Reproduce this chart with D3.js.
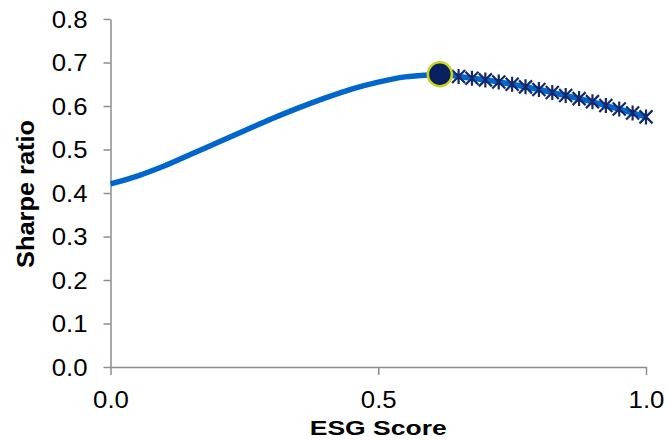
<!DOCTYPE html>
<html>
<head>
<meta charset="utf-8">
<script src="https://cdn.jsdelivr.net/npm/d3@7"></script>
<style>
  html, body { margin: 0; padding: 0; background: #fff; }
  svg { display: block; }
  text { font-family: "Liberation Sans", Arial, sans-serif; fill: #000; }
</style>
</head>
<body>
<svg id="chart" width="667" height="441"></svg>
<script>
// ---- data ----
const curveX = [0.00, 0.05, 0.10, 0.15, 0.20, 0.25, 0.30, 0.35, 0.40, 0.45, 0.50, 0.55, 0.60, 0.615];
const curveY = [0.421, 0.439, 0.462, 0.489, 0.516, 0.543, 0.570, 0.595, 0.618, 0.639, 0.655, 0.667, 0.672, 0.673];
const optimumX = [0.615];
const optimumY = [0.673];
const markX = [0.65, 0.675, 0.70, 0.725, 0.75, 0.775, 0.80, 0.825, 0.85, 0.875, 0.90, 0.925, 0.95, 0.975, 1.00];
const markY = [0.668, 0.664, 0.660, 0.655, 0.650, 0.644, 0.638, 0.631, 0.624, 0.617, 0.610, 0.601, 0.593, 0.584, 0.575];
const xTicks = [0.0, 0.5, 1.0];
const yTicks = [0.0, 0.1, 0.2, 0.3, 0.4, 0.5, 0.6, 0.7, 0.8];
const xTitle = "ESG Score";
const yTitle = "Sharpe ratio";

// ---- layout ----
const svg = d3.select("#chart");
const x = d3.scaleLinear().domain([0, 1]).range([110.5, 646]);
const y = d3.scaleLinear().domain([0, 0.8]).range([367, 19]);
const axisColor = "#8c8c8c";

function stretch(sel, k) {
  sel.each(function () {
    const len = this.getComputedTextLength();
    d3.select(this).attr("textLength", len * k).attr("lengthAdjust", "spacingAndGlyphs");
  });
}

// axes
const gx = svg.append("g").attr("transform", `translate(0,${y(0)})`)
  .call(d3.axisBottom(x).tickValues(xTicks).tickFormat(d3.format(".1f")).tickSizeInner(8).tickSizeOuter(0).tickPadding(17));
const gy = svg.append("g").attr("transform", `translate(${x(0)},0)`)
  .call(d3.axisLeft(y).tickValues(yTicks).tickFormat(d3.format(".1f")).tickSizeInner(7).tickSizeOuter(0).tickPadding(16));
[gx, gy].forEach(g => {
  g.select(".domain").attr("stroke", axisColor).attr("stroke-width", 1.5);
  g.selectAll(".tick line").attr("stroke", axisColor).attr("stroke-width", 1.5);
  g.selectAll(".tick text").attr("font-size", 23).attr("fill", "#000")
    .attr("font-family", "'Liberation Sans', Arial, sans-serif");
});
gy.selectAll(".tick text").attr("dy", "0.36em");
gx.selectAll(".tick text").attr("dy", "0.71em");
stretch(gx.selectAll(".tick text"), 1.12);
stretch(gy.selectAll(".tick text"), 1.12);

// titles
const xt = svg.append("text").attr("x", x(0.5)).attr("y", 435).attr("text-anchor", "middle")
  .attr("font-size", 21).attr("font-weight", "bold").text(xTitle);
stretch(xt, 137 / xt.node().getComputedTextLength());
const yt = svg.append("text").attr("transform", `translate(34,194) rotate(-90)`).attr("text-anchor", "middle")
  .attr("font-size", 24).attr("font-weight", "bold").text(yTitle);
stretch(yt, 148 / yt.node().getComputedTextLength());

// line
const pts = curveX.map((d, i) => [d, curveY[i]]).concat(markX.map((d, i) => [d, markY[i]]));
const line = d3.line().x(d => x(d[0])).y(d => y(d[1])).curve(d3.curveMonotoneX);
svg.append("path").datum(pts).attr("d", line).attr("fill", "none")
  .attr("stroke", "#0066cc").attr("stroke-width", 5.5).attr("stroke-linecap", "butt");

// star markers
const navy = "#14286a";
const mk = svg.append("g");
markX.forEach((d, i) => {
  const cx = x(d), cy = y(markY[i]);
  mk.append("path")
    .attr("d", `M${cx - 6.5},${cy - 6.5}L${cx + 6.5},${cy + 6.5}M${cx - 6.5},${cy + 6.5}L${cx + 6.5},${cy - 6.5}M${cx},${cy - 7.5}L${cx},${cy + 7.5}`)
    .attr("stroke", navy).attr("stroke-width", 2.2).attr("fill", "none");
});

// optimum
svg.selectAll("circle.opt").data(optimumX).enter().append("circle").attr("class", "opt")
  .attr("cx", d => x(d)).attr("cy", (d, i) => y(optimumY[i])).attr("r", 12)
  .attr("fill", "#0a2160").attr("stroke", "#c8d41e").attr("stroke-width", 2.5);
</script>
</body>
</html>
